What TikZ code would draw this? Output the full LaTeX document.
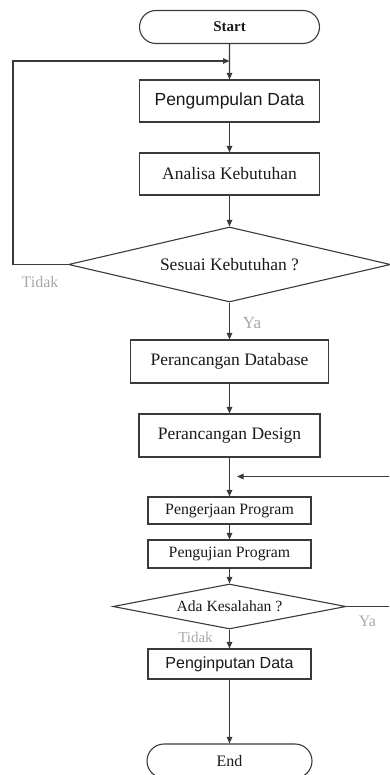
\documentclass[tikz,border=0pt]{standalone}
\usepackage{fontspec}
\setmainfont{Liberation Serif}
\newfontfamily\arialf{Liberation Sans}
\usetikzlibrary{shapes.geometric,shapes.misc,arrows.meta}
\definecolor{ln}{HTML}{3A3A3A}
\definecolor{lbl}{HTML}{A8A8A8}
\begin{document}
\begin{tikzpicture}[x=1pt,y=-1pt,
  box/.style={draw=ln,line width=1.1pt,rectangle,inner sep=0pt,text=black!90,font=\fontsize{17.5}{20}\selectfont},
  sbox/.style={box,font=\fontsize{15.8}{18}\selectfont},
  term/.style={draw=ln,line width=1.1pt,rounded rectangle,inner sep=0pt,text=black!90,font=\fontsize{16}{18}\selectfont},
  dec/.style={draw=ln,line width=1.1pt,diamond,inner sep=0pt,text=black!90,font=\fontsize{17.5}{20}\selectfont},
  arr/.style={draw=ln,line width=1.2pt,-{Triangle[length=6.5pt,width=5.5pt]}},
  ln/.style={draw=ln,line width=1.2pt},
  note/.style={text=lbl,font=\fontsize{16}{18}\selectfont,inner sep=0pt}]
\useasboundingbox (0,0) rectangle (389,775);
\node[term,minimum width=180,minimum height=33,font=\bfseries\fontsize{15}{18}\selectfont] (start) at (229.5,27) {Start};
\node[box,minimum width=180,minimum height=42,font=\arialf\fontsize{17.5}{20}\selectfont] (p1) at (229.5,101) {Pengumpulan Data};
\node[box,minimum width=180,minimum height=42] (p2) at (229.5,174) {Analisa Kebutuhan};
\node[dec,minimum width=322,minimum height=75,aspect=4.3] (d1) at (229.5,264.5) {Sesuai Kebutuhan ?};
\node[box,minimum width=198,minimum height=43] (p3) at (229.5,361.5) {Perancangan Database};
\node[box,minimum width=181,minimum height=43] (p4) at (229.5,435.5) {Perancangan Design};
\node[sbox,minimum width=163,minimum height=27] (p5) at (229.5,510.5) {Pengerjaan Program};
\node[sbox,minimum width=163,minimum height=28] (p6) at (229.5,554) {Pengujian Program};
\node[dec,minimum width=233,minimum height=45,aspect=5.2,font=\fontsize{15.6}{18}\selectfont] (d2) at (229.5,606.5) {Ada Kesalahan ?};
\node[box,minimum width=163,minimum height=30,font=\arialf\fontsize{16}{18}\selectfont] (p7) at (229.5,664) {Penginputan Data};
\node[term,minimum width=165,minimum height=34] (end) at (229.5,761) {End};

\coordinate (j1) at (229.5,61);
\coordinate (lp) at (13,61);
\coordinate (j2) at (237,476.5);
\coordinate (r2) at (389,476.5);
\coordinate (r1) at (389,606.5);

\draw[arr] (start) -- (p1);
\draw[arr] (d1.west) -| (lp) -- (j1);
\draw[arr] (p1) -- (p2);
\draw[arr] (p2) -- (d1);
\draw[arr] (d1) -- (p3);
\draw[arr] (p3) -- (p4);
\draw[arr] (p4) -- (p5);
\draw[arr] (r2) -- (j2);
\draw[arr] (p5) -- (p6);
\draw[arr] (p6) -- (d2);
\draw[ln] (d2.east) -- (r1);
\draw[arr] (d2) -- (p7);
\draw[arr] (p7) -- (end);

\node[note] (t1) at (40,282) {Tidak};
\node[note,font=\fontsize{17}{18}\selectfont] (y1) at (252,323) {Ya};
\node[note,font=\fontsize{15}{18}\selectfont] (t2) at (195.5,637) {Tidak};
\node[note] (y2) at (367.5,621) {Ya};
\end{tikzpicture}
\end{document}
